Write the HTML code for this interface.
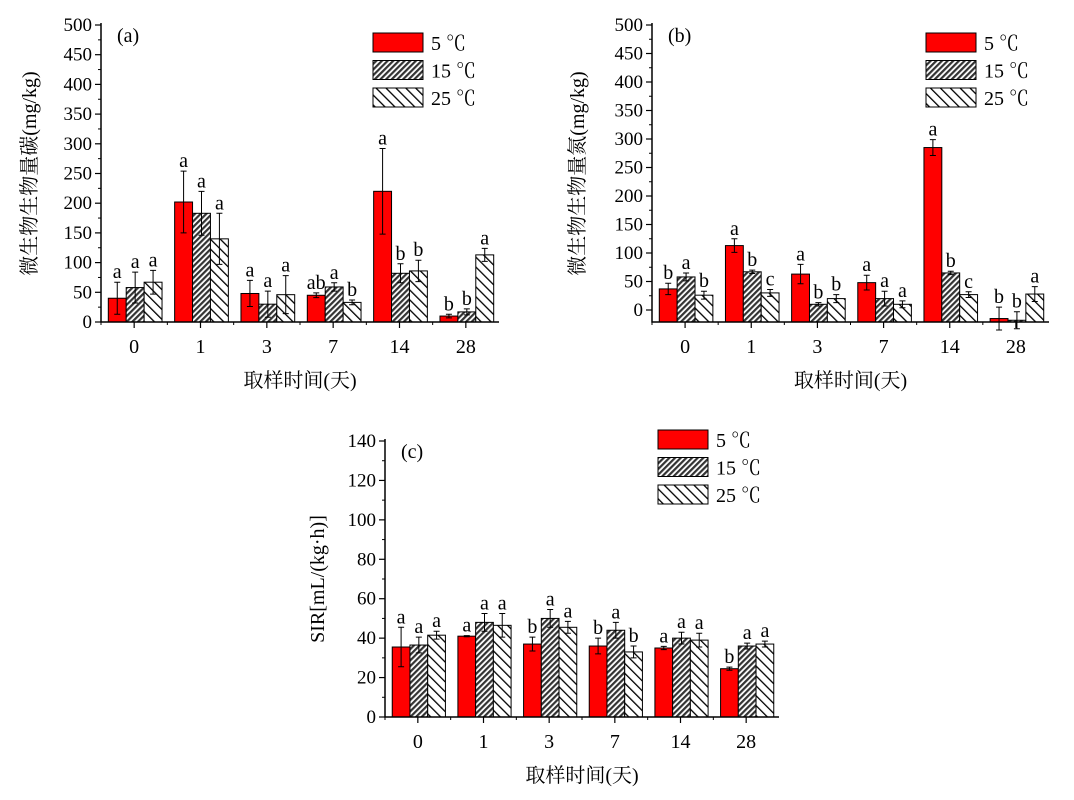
<!DOCTYPE html>
<html><head><meta charset="utf-8"><style>
body{margin:0;background:#fff;}
svg{display:block;font-family:"Liberation Serif","Noto Serif CJK SC",serif;}
</style></head><body>
<svg id="s" width="1074" height="800" xmlns="http://www.w3.org/2000/svg">
<defs>
<pattern id="p15" patternUnits="userSpaceOnUse" width="4" height="4" patternTransform="rotate(45)"><rect width="4" height="4" fill="#fff"/><rect width="2.2" height="4" fill="#333"/></pattern>
<pattern id="p25" patternUnits="userSpaceOnUse" width="7" height="7" patternTransform="rotate(-45)"><rect width="7" height="7" fill="#fff"/><rect width="1.3" height="7" fill="#000"/></pattern>
</defs>
</svg>
<script>
const categories=["0","1","3","7","14","28"];
const seriesNames=["5  ℃","15  ℃","25  ℃"];
const aVals=[[40,202,48,45,220,10],[58,183,30,59,82,17],[67,140,46,33,86,113]];
const aErr=[[27,52,22,4,72,3],[26,37,22,7,16,5],[20,43,32,4,18,11]];
const aLet=[["a","a","a","ab","a","b"],["a","a","a","a","b","b"],["a","a","a","b","b","a"]];
const bVals=[[37,113,63,48,285,-15],[58,67,10,20,65,-18],[26,30,20,10,27,28]];
const bErr=[[10,12,17,13,14,20],[7,3,3,13,3,15],[7,6,7,6,5,13]];
const bLet=[["b","a","a","a","a","b"],["a","b","b","a","b","b"],["b","c","b","a","c","a"]];
const cVals=[[35.5,41,37,36,35,24.5],[36.5,48,50,44,40,36],[41.5,46.5,45.5,33,39,37]];
const cErr=[[10,0.3,3.5,4,0.8,0.8],[4,4.5,4.5,4,3,1.5],[2,6,3,3,3.5,1.5]];
const cLet=[["a","a","b","b","a","b"],["a","a","a","a","a","a"],["a","a","a","b","a","a"]];
const aTicks=[0,50,100,150,200,250,300,350,400,450,500];
const cTicks=[0,20,40,60,80,100,120,140];

const NS="http://www.w3.org/2000/svg";
const svg=document.getElementById('s');
function el(t,a,p){const e=document.createElementNS(NS,t);for(const k in a)e.setAttribute(k,a[k]);(p||svg).appendChild(e);return e;}
const fills=["#f00","url(#p15)","url(#p25)"];

function panel(o){
  const g=el('g',{});
  
  
  const y=v=>o.y0-(v-o.vmin)*(o.y0-o.y1)/(o.vmax-o.vmin);
  const step=(o.xR-o.xL)/categories.length;
  const cx=i=>o.xL+step*(i+0.5);
  const bw=step*0.27;
  const yb=o.axisY;
  for(let s=0;s<3;s++)for(let i=0;i<categories.length;i++){
    const v=o.vals[s][i],x=cx(i)+(s-1.5)*bw+1,top=y(v);
    const r=el('rect',{x:x,y:Math.min(top,yb),width:bw,height:Math.abs(yb-top),fill:fills[s],stroke:"#000","stroke-width":1},g);
    
    
    const m=x+bw/2,e=o.err[s][i],t=y(v+e),b=y(v-e);
    el('path',{d:`M${m},${t}V${b}M${m-3},${t}h6M${m-3},${b}h6`,stroke:"#000","stroke-width":1,fill:"none"},g);
    const l=el('text',{x:m,y:t-4,"text-anchor":"middle","font-size":20},g);
    l.textContent=o.lets[s][i];
    
    
  }
  el('path',{d:`M${o.xL},${o.y1-2}V${yb}H${o.xR}`,stroke:"#000","stroke-width":1.5,fill:"none"},g);
  o.ticks.forEach((t,k)=>{
    const ty=y(t);
    el('line',{x1:o.xL-6,x2:o.xL,y1:ty,y2:ty,stroke:"#000","stroke-width":1.2},g);
    if(k<o.ticks.length-1){const my=y(t+(o.ticks[1]-o.ticks[0])/2);el('line',{x1:o.xL-3,x2:o.xL,y1:my,y2:my,stroke:"#000"},g);}
    const tx=el('text',{x:o.xL-9,y:ty+6,"text-anchor":"end","font-size":19},g);tx.textContent=t;
    
    
  });
  categories.forEach((c,i)=>{
    el('line',{x1:cx(i),x2:cx(i),y1:yb,y2:yb+6,stroke:"#000","stroke-width":1.2},g);
    el('line',{x1:o.xL+step*i,x2:o.xL+step*i,y1:yb,y2:yb+3,stroke:"#000"},g);
    const tx=el('text',{x:cx(i),y:yb+31,"text-anchor":"middle","font-size":20},g);tx.textContent=c;
    
    
  });
  const pl=el('text',{x:o.xL+16,y:o.y1+17,"font-size":20},g);pl.textContent=o.label;
  
  
  const xt=el('text',{x:(o.xL+o.xR)/2,y:yb+65,"text-anchor":"middle","font-size":20},g);xt.textContent="取样时间(天)";
  
  
  const ym=(o.y1+yb)/2;
  const yt=el('text',{x:o.ytx,y:ym,"text-anchor":"middle","font-size":20,transform:`rotate(-90 ${o.ytx} ${ym})`},g);yt.textContent=o.ytitle;
  
  
  for(let s=0;s<3;s++){
    const ly=o.legY+s*27.5;
    const lg=el('g',{},g);
    
    
    el('rect',{x:o.legX,y:ly,width:50,height:19,fill:fills[s],stroke:"#000"},lg);
    const t=el('text',{x:o.legX+58,y:ly+17,"font-size":20,"xml:space":"preserve"},lg);t.textContent=seriesNames[s];
  }
}
panel({id:'a',name:'chart-a',xL:101,xR:499,y0:322,y1:25,axisY:322,vmin:0,vmax:500,vals:aVals,err:aErr,lets:aLet,ticks:aTicks,label:"(a)",ytitle:"微生物生物量碳(mg/kg)",ytx:36,legX:373,legY:33});
panel({id:'b',name:'chart-b',xL:652,xR:1049,y0:310,y1:25,axisY:322,vmin:0,vmax:500,vals:bVals,err:bErr,lets:bLet,ticks:aTicks,label:"(b)",ytitle:"微生物生物量氮(mg/kg)",ytx:584,legX:926,legY:33});
panel({id:'c',name:'chart-c',xL:385,xR:779,y0:717,y1:441,axisY:717,vmin:0,vmax:140,vals:cVals,err:cErr,lets:cLet,ticks:cTicks,label:"(c)",ytitle:"SIR[mL/(kg·h)]",ytx:324,legX:658,legY:430});
</script>
</body></html>
